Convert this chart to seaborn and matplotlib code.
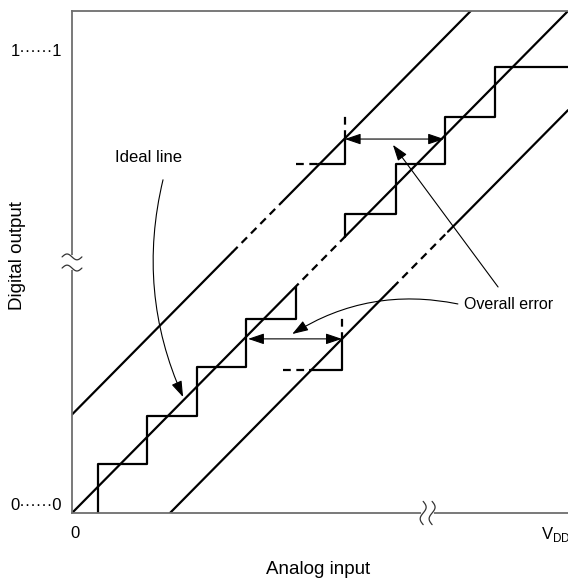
import numpy as np
import seaborn as sns
import matplotlib.pyplot as plt

# units: x in LSB of analog input, y in codes (schematic)
x_max = 10.0
y_max = 10.35

# diagonal lines: solid / dashed / solid pieces, given by x breakpoints
ideal_slope = 1.035
line_intercepts = [2.03, 0.0, -2.045]          # upper limit, ideal, lower limit
line_x_start = [0.0, 0.0, 1.976]
line_x_end = [8.04, 10.0, 10.0]
line_dash_x = [(3.23, 4.23), (4.46, 5.50), (6.47, 7.58)]

# actual conversion characteristic (two pieces)
lower_x = [0.52, 0.52, 1.52, 1.52, 2.52, 2.52, 3.51, 3.51, 4.52, 4.52]
lower_y = [0.0, 1.0, 1.0, 2.0, 2.0, 3.0, 3.0, 4.0, 4.0, 4.66]
upper_x = [5.50, 5.50, 6.53, 6.53, 7.52, 7.52, 8.53, 8.53, 10.0]
upper_y = [5.69, 6.16, 6.16, 7.20, 7.20, 8.16, 8.16, 9.20, 9.20]

# pieces of the error step near the limit lines
left_step_x = [4.52, 4.96, 5.50, 5.50, 5.50]
left_step_y = [7.20, 7.20, 7.20, 7.73, 8.23]
right_step_x = [4.25, 4.80, 5.44, 5.44, 5.44]
right_step_y = [2.95, 2.95, 2.95, 3.57, 4.02]

# double arrows showing the overall error
err_y = [7.71, 3.59]
err_x0 = [5.50, 3.55]
err_x1 = [7.50, 5.44]

ytick_pos = [0.19, 9.55]
ytick_lab = ['0\u00b7\u00b7\u00b7\u00b7\u00b7\u00b70', '1\u00b7\u00b7\u00b7\u00b7\u00b7\u00b71']
xtick_pos = [0.06, 9.76]
xtick_lab = ['0', r'V$_{\mathregular{DD}}$']

sns.set_theme(style='white')
plt.rcParams['font.family'] = ['Liberation Sans', 'DejaVu Sans']
plt.rcParams['mathtext.fontset'] = 'custom'
plt.rcParams['mathtext.rm'] = 'Liberation Sans'
plt.rcParams['text.color'] = 'black'

fig = plt.figure(figsize=(5.68, 5.81), dpi=100)
ax = fig.add_axes([72/568, 68/581, 496/568, 502/581])
ax.set_xlim(0, x_max)
ax.set_ylim(0, y_max)

dash = (0, (3.5, 2.5))
lw = 1.6

for b, xs, xe, (d0, d1) in zip(line_intercepts, line_x_start, line_x_end, line_dash_x):
    pieces = [((xs, d0), '-'), ((d0, d1), dash), ((d1, xe), '-')]
    for (a0, a1), ls in pieces:
        xx = np.array([a0, a1])
        sns.lineplot(x=xx, y=ideal_slope * xx + b, color='black', lw=lw,
                     linestyle=ls, sort=False, estimator=None, ax=ax)

sns.lineplot(x=lower_x, y=lower_y, color='black', lw=lw, sort=False, estimator=None, ax=ax)
sns.lineplot(x=upper_x, y=upper_y, color='black', lw=lw, sort=False, estimator=None, ax=ax)

for sx, sy in [(left_step_x, left_step_y), (right_step_x, right_step_y)]:
    ax.plot(sx[:2], sy[:2], color='black', lw=lw, linestyle=dash)
    ax.plot(sx[1:4], sy[1:4], color='black', lw=lw)
    ax.plot(sx[3:], sy[3:], color='black', lw=lw, linestyle=dash)

head = '-|>,head_length=0.65,head_width=0.22'
for y, a, b in zip(err_y, err_x0, err_x1):
    ax.annotate('', xy=(a, y), xytext=(b, y),
                arrowprops=dict(arrowstyle='<|-|>,head_length=0.65,head_width=0.22',
                                color='black', lw=0.8, mutation_scale=15, shrinkA=0, shrinkB=0))

ax.text(1.55, 7.32, 'Ideal line', fontsize=12, ha='center', va='center')
ax.annotate('', xy=(2.24, 2.39), xytext=(1.835, 6.87),
            arrowprops=dict(arrowstyle=head, color='black', lw=0.8, mutation_scale=15,
                            shrinkA=0, shrinkB=0, connectionstyle='arc3,rad=0.17'))

ax.text(7.90, 4.29, 'Overall error', fontsize=11.5, ha='left', va='center')
ax.annotate('', xy=(6.47, 7.59), xytext=(8.59, 4.66),
            arrowprops=dict(arrowstyle=head, color='black', lw=0.8, mutation_scale=15,
                            shrinkA=0, shrinkB=0))
ax.annotate('', xy=(4.44, 3.69), xytext=(7.78, 4.31),
            arrowprops=dict(arrowstyle=head, color='black', lw=0.8, mutation_scale=15,
                            shrinkA=0, shrinkB=0, connectionstyle='arc3,rad=0.2'))

# spines and tick labels
spine_col = '#6e6e6e'
ax.spines['right'].set_visible(False)
for s in ['top', 'left', 'bottom']:
    ax.spines[s].set_color(spine_col)
    ax.spines[s].set_linewidth(1.3)
ax.set_yticks(ytick_pos, ytick_lab, fontsize=12)
ax.set_xticks(xtick_pos, xtick_lab, fontsize=12)
ax.tick_params(axis='both', length=0, colors='black')
ax.tick_params(axis='y', pad=7)
ax.tick_params(axis='x', pad=9)

# axis break marks
t = np.linspace(0, 1, 40)
ax.plot([7.08, 7.26], [0, 0], color='white', lw=3, clip_on=False, zorder=5)
for xb in [7.08, 7.26]:
    ax.plot(xb + 0.06 * np.sin(2 * np.pi * t), 0.24 - 0.48 * t,
            color='#333333', lw=0.9, clip_on=False, zorder=6)
ax.plot([0, 0], [5.05, 5.28], color='white', lw=3, clip_on=False, zorder=5)
for yb in [5.05, 5.28]:
    ax.plot(-0.2 + 0.4 * t, yb + 0.06 * np.sin(2 * np.pi * t),
            color='#333333', lw=0.9, clip_on=False, zorder=6)

fig.text(18/568, 1 - 256/581, 'Digital output', rotation=90, fontsize=13.5,
         ha='center', va='center')
fig.text(318/568, 1 - 570/581, 'Analog input', fontsize=13.5, ha='center', va='center')

fig.savefig('out.png', dpi=100)
